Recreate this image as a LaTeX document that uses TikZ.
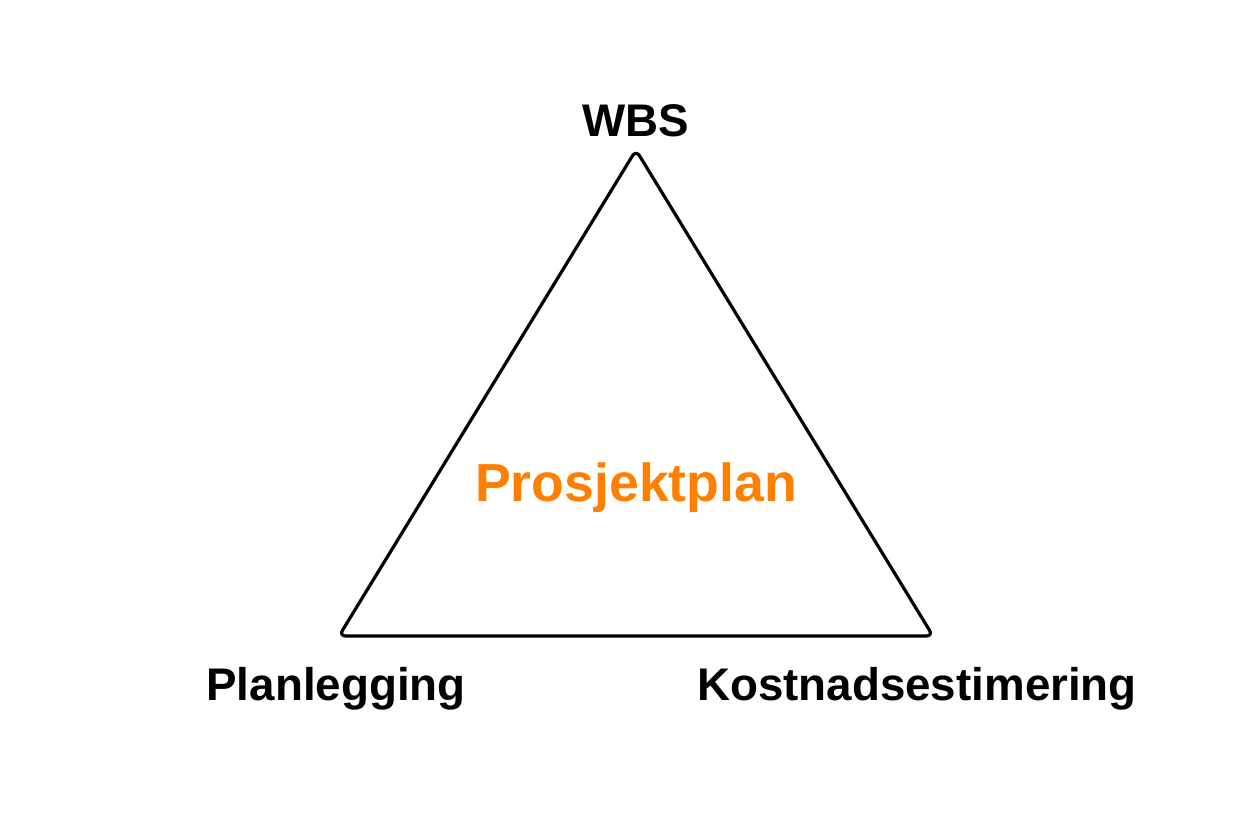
\documentclass[tikz,border=0pt]{standalone}
\usepackage{fontspec}
\setmainfont{Liberation Sans}
\definecolor{planorange}{RGB}{255,128,0}
\begin{document}
\begin{tikzpicture}[x=0.75pt,y=0.75pt,
  lbl/.style={font=\fontsize{34.3}{40}\selectfont\bfseries, anchor=base, inner sep=0pt},
  tri/.style={line width=2.4pt, line join=round, rounded corners=5pt}]
\useasboundingbox (0,0) rectangle (1238,825);
\coordinate (top) at (636,675);
\coordinate (bl) at (339,189);
\coordinate (br) at (933,189);
\draw[tri] (top) -- (br) -- (bl) -- cycle;
\node[lbl] (wbs) at (636,688) {WBS};
\node[lbl] (plan) at (336,125) {Planlegging};
\node[lbl] (kost) at (917,125) {Kostnadsestimering};
\node[lbl, font=\fontsize{40.2}{46}\selectfont\bfseries, text=planorange] (pp) at (636,323) {Prosjektplan};
\end{tikzpicture}
\end{document}
